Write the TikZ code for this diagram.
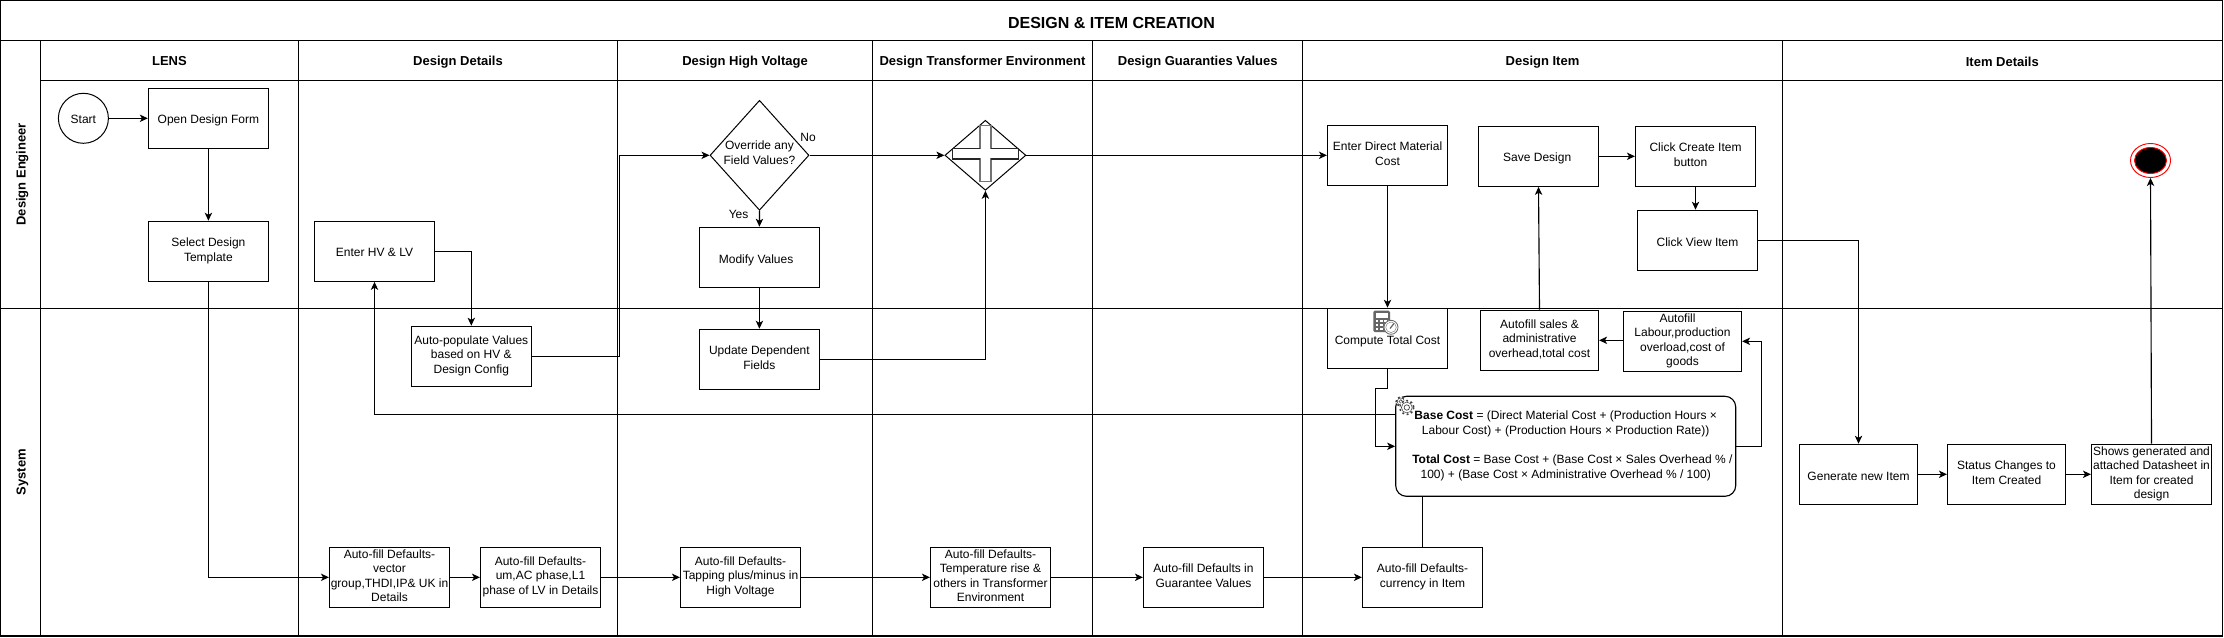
\documentclass[tikz,border=0pt]{standalone}
\usepackage{fontspec}
\setmainfont{Liberation Sans}
\usetikzlibrary{arrows.meta,shapes.geometric,calc}
\newcommand{\topstrut}{\rule{0pt}{11.05pt}}
\newcommand{\botstrut}{\rule[-2.5pt]{0pt}{0pt}}
\tikzset{
  lane/.style={draw=black,line width=.85pt},
  bodytxt/.style={inner sep=0pt,align=center,font=\fontsize{9}{10.95}\selectfont,execute at begin node=\topstrut,execute at end node=\botstrut},
  stepbox/.style={draw=black,line width=.85pt,rectangle,bodytxt},
  wh/.style 2 args={minimum width=#1*0.75pt,minimum height=#2*0.75pt},
  decide/.style={draw=black,line width=.75pt,diamond,aspect=1,inner sep=0pt},
  headtxt/.style={inner sep=0pt,anchor=base,font=\fontsize{9.75}{12}\selectfont\bfseries},
  conn/.style={draw=black,line width=.85pt},
  arr/.style={conn,-{Stealth[length=6pt,width=5.5pt,inset=1.6pt]}},
}
\begin{document}
\begin{tikzpicture}[x=.75pt,y=-.75pt]
\useasboundingbox (0,0) rectangle (2224,638);
\fill[white] (0,0) rectangle (2224,638);
% frame
\draw[lane] (0.6,0.6) rectangle (2222.3,636);
\draw[lane] (0.6,40.3) -- (2222.3,40.3);
\draw[lane] (40.3,80.3) -- (2222.3,80.3);
\draw[lane] (0.6,308.3) -- (2222.3,308.3);
\draw[lane] (40.3,40.3) -- (40.3,636);
\foreach \x in {298.5,617.6,872.5,1092.6,1302.8,1782.3} \draw[lane] (\x,40.3) -- (\x,636);
% headers
\node[inner sep=0pt,anchor=base,font=\fontsize{12}{14}\selectfont\bfseries] (title) at (1111.5,28.3) {DESIGN \& ITEM CREATION};
\node[headtxt] (h1) at (169.4,66) {LENS};
\node[headtxt] (h2) at (458,66) {Design Details};
\node[headtxt] (h3) at (745,66) {Design High Voltage};
\node[headtxt] (h4) at (982.5,66) {Design Transformer Environment};
\node[headtxt] (h5) at (1197.7,66) {Design Guaranties Values};
\node[headtxt] (h6) at (1542.5,66) {Design Item};
\node[headtxt] (h7) at (2002.3,67) {Item Details};
\node[headtxt,rotate=90] (l1) at (25.7,174.3) {Design Engineer};
\node[headtxt,rotate=90] (l2) at (25.7,472.3) {System};
% nodes upper
\node[stepbox,ellipse,line width=.75pt,wh={50}{50}] (start) at (83.4,118.3) {Start};
\node[stepbox,wh={120}{60}] (open) at (208.4,118.3) {Open Design Form};
\node[stepbox,wh={120}{60}] (sel) at (208.4,251.3) {Select Design\\Template};
\node[stepbox,wh={120}{60}] (hv) at (374.5,251.3) {Enter HV \& LV};
\node[stepbox,wh={120}{60}] (auto) at (471.3,356.3) {Auto-populate Values\\based on HV \&\\Design Config};
\node[decide,wh={99}{110},shape aspect=0.9] (dia) at (759.5,155.3) {};
\node[bodytxt] (diat) at (759.5,154.5) {Override any\\Field Values?};
\node[bodytxt] (no) at (808,135.6) {No};
\node[bodytxt] (yes) at (738.6,213) {Yes};
\node[stepbox,wh={120}{60}] (mod) at (759.4,257.3) {\hspace*{-5pt}Modify Values};
\node[stepbox,wh={120}{60}] (upd) at (759.4,359.3) {Update Dependent\\Fields};
\node[decide,wh={81}{70},shape aspect=1.157] (gw) at (985.4,155.3) {};
\draw[draw=black!55,line width=1.1pt] (980,125.5) -- (991,125.5) -- (991,148.3) -- (1018.3,148.3) -- (1018.3,159) -- (991,159) -- (991,181.7) -- (980,181.7) -- (980,159) -- (952.3,159) -- (952.3,148.3) -- (980,148.3) -- cycle;
\draw[draw=black!85,line width=.85pt] (980,148.3) -- (952.3,148.3) -- (952.3,159) -- (980,159) (991,148.3) -- (1018.3,148.3) -- (1018.3,159) -- (991,159);
\node[stepbox,wh={120}{60}] (mat) at (1387.5,155.3) {Enter Direct Material\\Cost};
\node[stepbox,wh={120}{60}] (cmp) at (1387.5,338.3) {Compute Total Cost};
\node[stepbox,wh={120}{60}] (save) at (1538.5,156.3) {\hspace*{-2pt}Save Design};
\node[stepbox,wh={120}{60}] (crt) at (1695.5,156.3) {Click Create Item\\\hspace*{-7.5pt}button};
\node[stepbox,wh={120}{60}] (view) at (1697.5,240.3) {Click View Item};
\node[stepbox,wh={118}{60}] (sal) at (1539.5,340.3) {Autofill sales \&\\administrative\\overhead,total cost};
\node[stepbox,wh={118}{60}] (lab) at (1682.5,341.3) {\hspace*{-7.5pt}Autofill\\Labour,production\\overload,cost of\\goods};
\node[stepbox,rounded corners=8pt,wh={340}{100}] (rnd) at (1565.7,446.3) {\textbf{Base Cost} = (Direct Material Cost + (Production Hours ×\\Labour Cost) + (Production Hours × Production Rate))\\[10.95pt]\hspace*{10pt}\textbf{Total Cost} = Base Cost + (Base Cost × Sales Overhead \% /\\100) + (Base Cost × Administrative Overhead \% / 100)};
% lower row
\node[stepbox,wh={120}{60}] (vec) at (389.5,577.3) {Auto-fill Defaults-\\vector\\group,THDI,IP\& UK in\\Details};
\node[stepbox,wh={120}{60}] (um) at (540.5,577.3) {Auto-fill Defaults-\\um,AC phase,L1\\phase of LV in Details};
\node[stepbox,wh={120}{60}] (tap) at (740.5,577.3) {Auto-fill Defaults-\\Tapping plus/minus in\\High Voltage};
\node[stepbox,wh={120}{60}] (tmp) at (990.5,577.3) {Auto-fill Defaults-\\Temperature rise \&\\others in Transformer\\Environment};
\node[stepbox,wh={120}{60}] (gua) at (1203.5,577.3) {Auto-fill Defaults in\\Guarantee Values};
\node[stepbox,wh={120}{60}] (cur) at (1422.5,577.3) {Auto-fill Defaults-\\currency in Item};
\node[stepbox,wh={118}{60}] (gen) at (1858.5,474.3) {Generate new Item};
\node[stepbox,wh={118}{60}] (sta) at (2006.5,474.3) {Status Changes to\\Item Created};
\node[stepbox,wh={120}{60}] (sho) at (2151.5,474.3) {Shows generated and\\attached Datasheet in\\Item for created\\design};
% end event
\node[ellipse,draw=red,line width=.7pt,wh={40}{34},inner sep=0pt] (endo) at (2150.5,160.5) {};
\node[ellipse,draw=red,fill=black,line width=.7pt,wh={32}{26},inner sep=0pt] (endi) at (2150.5,160.5) {};
% calculator icon
\fill[black!60,rounded corners=1pt] (1373.3,310.7) rectangle (1390,332);
\fill[white] (1375.5,312.8) rectangle (1387.8,317.6);
\foreach \a in {0,1,2} \foreach \b in {0,1,2} \fill[white] ({1375.6+4.4*\a},{319.8+4*\b}) rectangle ++(2.6,2.4);
\fill[white] (1391,327.3) circle (7.3);
\draw[black!60,line width=.6pt] (1391,327.3) circle (7);
\draw[black!45,line width=.4pt] (1391,327.3) circle (5.3);
\draw[black!60,line width=.9pt] (1390,328.5) -- (1394,323.5);
% gear icon
\foreach \cx/\cy/\r in {1400.8/401.5/5,1406.8/407.5/7.5}{
  \fill[white] (\cx,\cy) circle (\r);
  \draw[black!75,line width=.4pt] (\cx,\cy) circle (\r*.72);
  \draw[black!75,line width=1.2pt,dash pattern=on 1.4pt off 2pt] (\cx,\cy) circle (\r*.92);
  \draw[black!75,line width=.5pt] (\cx,\cy) circle (\r*.36);
}
% connector helpers
\coordinate (c1) at (619.8,356.3);
\coordinate (c2) at (1387.5,388.3);
\coordinate (c3) at (1375.3,388.3);
\coordinate (c4) at (1375.3,446.3);
\coordinate (c5) at (1761.7,446.3);
\coordinate (r1) at (rnd.west |- 0,414.3);
% connectors
\draw[arr] (start) -- (open);
\draw[arr] (open) -- (sel);
\draw[arr] (sel.south) |- (vec.west);
\draw[arr] (hv.east) -| (auto.north);
\draw[arr] (auto.east) -- (c1) |- (dia.west);
\draw[arr] (dia.east) -- (gw.west);
\draw[arr] (dia.south) -- (mod.north);
\draw[arr] (mod.south) -- (upd.north);
\draw[arr] (upd.east) -| (gw.south);
\draw[arr] (gw.east) -- (mat.west);
\draw[arr] (mat.south) -- (cmp.north);
\draw[conn] (cmp.south) -- (c2) -- (c3) -- (c4);
\draw[arr] (c4) -- (rnd.west);
\draw[arr] (r1) -| (hv.south);
\draw[arr] (rnd.east) -- (c5) |- (lab.east);
\draw[arr] (lab.west |- sal.east) -- (sal.east);
\draw[arr] (sal.north) -- (save.south);
\draw[arr] (save.east) -- (crt.west);
\draw[arr] (crt.south) -- (crt.south |- view.north);
\draw[arr] (view.east) -| (gen.north);
\draw[arr] (gen) -- (sta);
\draw[arr] (sta) -- (sho);
\draw[arr] (sho.north) -- (endo.south);
\draw[arr] (vec) -- (um);
\draw[arr] (um) -- (tap);
\draw[arr] (tap) -- (tmp);
\draw[arr] (tmp) -- (gua);
\draw[arr] (gua) -- (cur);
\draw[conn] (cur.north) -- (cur.north |- rnd.south);
\end{tikzpicture}
\end{document}
